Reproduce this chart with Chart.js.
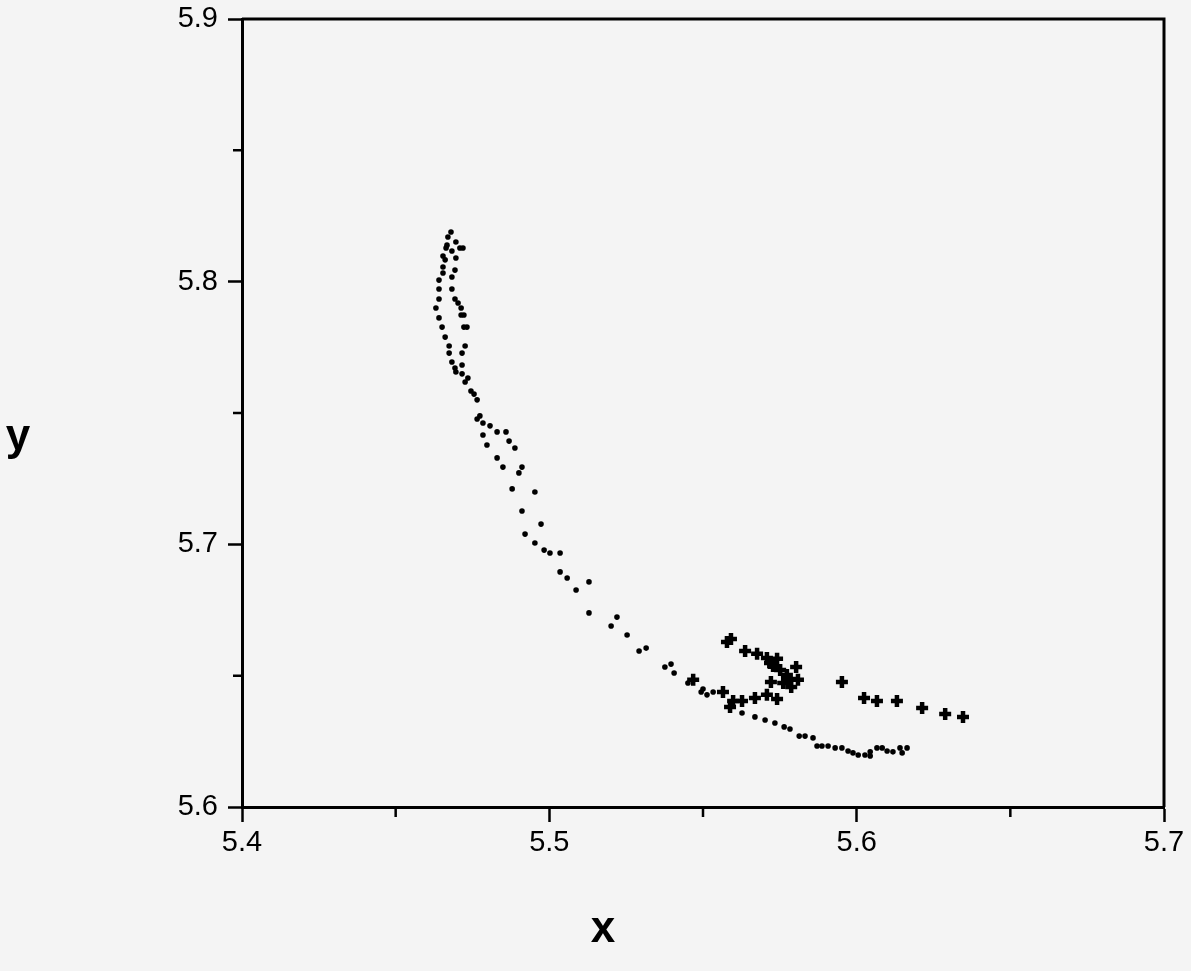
<!DOCTYPE html>
<html>
<head>
<meta charset="utf-8">
<script src="https://cdn.jsdelivr.net/npm/chart.js@4/dist/chart.umd.min.js"></script>
<style>
  html, body { margin: 0; padding: 0; background: #f4f4f4; }
  #wrap { width: 1191px; height: 971px; }
</style>
</head>
<body>
<div id="wrap"><canvas id="c" width="1191" height="971"></canvas></div>
<script>
// Axis ranges / ticks
const xTickValues = [5.4, 5.5, 5.6, 5.7];
const yTickValues = [5.6, 5.7, 5.8, 5.9];
const xMinorTicks = [5.45, 5.55, 5.65];
const yMinorTicks = [5.65, 5.75, 5.85];
const xTitle = 'x';
const yTitle = 'y';

// Series 1: small dots (x, y)
const dotX = [
  5.4680, 5.4670, 5.4667, 5.4664, 5.4654, 5.4661, 5.4654, 5.4654, 5.4641, 5.4641,
  5.4641, 5.4631, 5.4641, 5.4651, 5.4661, 5.4674, 5.4674, 5.4683, 5.4693, 5.4696,
  5.4696, 5.4709, 5.4719, 5.4683, 5.4696, 5.4693, 5.4683, 5.4683, 5.4693, 5.4703,
  5.4713, 5.4713, 5.4722, 5.4722, 5.4732, 5.4726, 5.4716, 5.4716, 5.4716, 5.4735,
  5.4726, 5.4745, 5.4755, 5.4765, 5.4774, 5.4765, 5.4784, 5.4807, 5.4830, 5.4859,
  5.4784, 5.4869, 5.4797, 5.4888, 5.4830, 5.4849, 5.4911, 5.4901, 5.4879, 5.4953,
  5.4911, 5.4973, 5.4921, 5.4953, 5.4983, 5.5002, 5.5035, 5.5035, 5.5058, 5.5129,
  5.5087, 5.5129, 5.5220, 5.5201, 5.5253, 5.5292, 5.5315, 5.5376, 5.5396, 5.5406,
  5.5451, 5.5500, 5.5494, 5.5513, 5.5533, 5.5627, 5.5669, 5.5702, 5.5734, 5.5764,
  5.5783, 5.5813, 5.5832, 5.5858, 5.5871, 5.5887, 5.5907, 5.5930, 5.5952, 5.5972,
  5.5988, 5.6005, 5.6027, 5.6044, 5.6044, 5.6066, 5.6083, 5.6099, 5.6118, 5.6141,
  5.6148, 5.6164
];
const dotY = [
  5.8189, 5.8170, 5.8139, 5.8128, 5.8098, 5.8083, 5.8056, 5.8033, 5.8006, 5.7972,
  5.7934, 5.7900, 5.7862, 5.7827, 5.7789, 5.7755, 5.7728, 5.7694, 5.7671, 5.7656,
  5.8151, 5.8128, 5.8128, 5.8117, 5.8090, 5.8044, 5.8018, 5.7972, 5.7934, 5.7919,
  5.7900, 5.7873, 5.7873, 5.7827, 5.7827, 5.7755, 5.7728, 5.7683, 5.7649, 5.7633,
  5.7618, 5.7584, 5.7572, 5.7550, 5.7489, 5.7477, 5.7462, 5.7451, 5.7428, 5.7428,
  5.7416, 5.7393, 5.7378, 5.7367, 5.7329, 5.7294, 5.7294, 5.7272, 5.7211, 5.7199,
  5.7127, 5.7077, 5.7039, 5.7005, 5.6978, 5.6967, 5.6967, 5.6895, 5.6872, 5.6857,
  5.6826, 5.6739, 5.6723, 5.6689, 5.6655, 5.6594, 5.6605, 5.6533, 5.6544, 5.6510,
  5.6472, 5.6449, 5.6438, 5.6427, 5.6438, 5.6358, 5.6343, 5.6331, 5.6320, 5.6305,
  5.6297, 5.6270, 5.6270, 5.6263, 5.6232, 5.6232, 5.6232, 5.6225, 5.6225, 5.6213,
  5.6206, 5.6198, 5.6198, 5.6210, 5.6194, 5.6225, 5.6225, 5.6213, 5.6210, 5.6225,
  5.6206, 5.6225
];

// Series 2: bold crosses (x, y)
const crossX = [
  5.5578, 5.5591, 5.5637, 5.5676, 5.5708, 5.5741, 5.5718, 5.5728, 5.5751, 5.5773,
  5.5803, 5.5809, 5.5783, 5.5761, 5.5787, 5.5721, 5.5708, 5.5741, 5.5669, 5.5627,
  5.5598, 5.5588, 5.5565, 5.5468, 5.5952, 5.6024, 5.6066, 5.6131, 5.6213, 5.6288,
  5.6346
];
const crossY = [
  5.6628, 5.6640, 5.6594, 5.6583, 5.6567, 5.6564, 5.6548, 5.6537, 5.6522, 5.6503,
  5.6533, 5.6484, 5.6487, 5.6472, 5.6457, 5.6476, 5.6427, 5.6411, 5.6415, 5.6404,
  5.6404, 5.6381, 5.6438, 5.6484, 5.6476, 5.6415, 5.6404, 5.6404, 5.6377, 5.6354,
  5.6343
];

const toPoints = (xs, ys) => xs.map((x, i) => ({ x: x, y: ys[i] }));

const FONT = "'Liberation Sans', Arial, Helvetica, sans-serif";

const isMajor = (v, majors) => majors.some(m => Math.abs(m - v) < 1e-6);

const bgPlugin = {
  id: 'bg',
  beforeDraw(chart) {
    const ctx = chart.ctx;
    ctx.save();
    ctx.fillStyle = '#f4f4f4';
    ctx.fillRect(0, 0, chart.width, chart.height);
    ctx.restore();
  }
};

const framePlugin = {
  id: 'frame',
  afterDraw(chart) {
    const a = chart.chartArea;
    const ctx = chart.ctx;
    const xs = chart.scales.x, ys = chart.scales.y;
    ctx.save();
    ctx.strokeStyle = '#000';
    ctx.lineWidth = 3;
    ctx.beginPath();
    ctx.moveTo(a.left, a.top);
    ctx.lineTo(a.right, a.top);
    ctx.lineTo(a.right, a.bottom);
    ctx.stroke();
    // shorter minor ticks
    ctx.lineWidth = 2.5;
    ctx.beginPath();
    xMinorTicks.forEach(v => {
      const px = xs.getPixelForValue(v);
      ctx.moveTo(px, a.bottom);
      ctx.lineTo(px, a.bottom + 10);
    });
    yMinorTicks.forEach(v => {
      const py = ys.getPixelForValue(v);
      ctx.moveTo(a.left, py);
      ctx.lineTo(a.left - 9, py);
    });
    ctx.stroke();
    // axis titles (upright, bold)
    ctx.fillStyle = '#000';
    ctx.font = "bold 44px " + FONT;
    ctx.textAlign = 'center';
    ctx.textBaseline = 'alphabetic';
    ctx.fillText(yTitle, 18, 450);
    ctx.fillText(xTitle, 603, 942);
    ctx.restore();
  }
};

new Chart(document.getElementById('c'), {
  type: 'scatter',
  data: {
    datasets: [
      {
        label: 'dots',
        data: toPoints(dotX, dotY),
        pointStyle: 'circle',
        pointRadius: 2.8,
        pointBorderWidth: 0,
        backgroundColor: '#000',
        borderColor: '#000'
      },
      {
        label: 'crosses',
        data: toPoints(crossX, crossY),
        pointStyle: 'cross',
        pointRadius: 6,
        pointBorderWidth: 4.5,
        backgroundColor: '#000',
        borderColor: '#000'
      }
    ]
  },
  options: {
    responsive: false,
    animation: false,
    events: [],
    layout: { padding: { top: 19, right: 27, left: 0, bottom: 0 } },
    plugins: {
      legend: { display: false },
      tooltip: { enabled: false },
      title: { display: false }
    },
    scales: {
      x: {
        type: 'linear',
        min: 5.4,
        max: 5.7,
        afterFit(scale) { scale.height = 164; scale.paddingLeft = 0; scale.paddingRight = 0; },
        border: { display: true, color: '#000', width: 3 },
        grid: {
          drawOnChartArea: false,
          drawTicks: true,
          tickLength: 15,
          tickColor: (c) => (c.tick && isMajor(c.tick.value, xTickValues)) ? '#000' : 'rgba(0,0,0,0)',
          tickWidth: 2.5
        },
        ticks: {
          stepSize: 0.05,
          autoSkip: false,
          maxRotation: 0,
          padding: 4,
          color: '#000',
          font: { family: FONT, size: 29 },
          callback: (v) => isMajor(v, xTickValues) ? Number(v).toFixed(1) : ''
        }
      },
      y: {
        type: 'linear',
        min: 5.6,
        max: 5.9,
        afterFit(scale) { scale.width = 242; scale.paddingTop = 0; scale.paddingBottom = 0; },
        border: { display: true, color: '#000', width: 3 },
        grid: {
          drawOnChartArea: false,
          drawTicks: true,
          tickLength: 14,
          tickColor: (c) => (c.tick && isMajor(c.tick.value, yTickValues)) ? '#000' : 'rgba(0,0,0,0)',
          tickWidth: 2.5
        },
        ticks: {
          stepSize: 0.05,
          autoSkip: false,
          padding: 10,
          color: '#000',
          font: { family: FONT, size: 29 },
          callback: (v) => isMajor(v, yTickValues) ? Number(v).toFixed(1) : ''
        }
      }
    }
  },
  plugins: [bgPlugin, framePlugin]
});
</script>
</body>
</html>
